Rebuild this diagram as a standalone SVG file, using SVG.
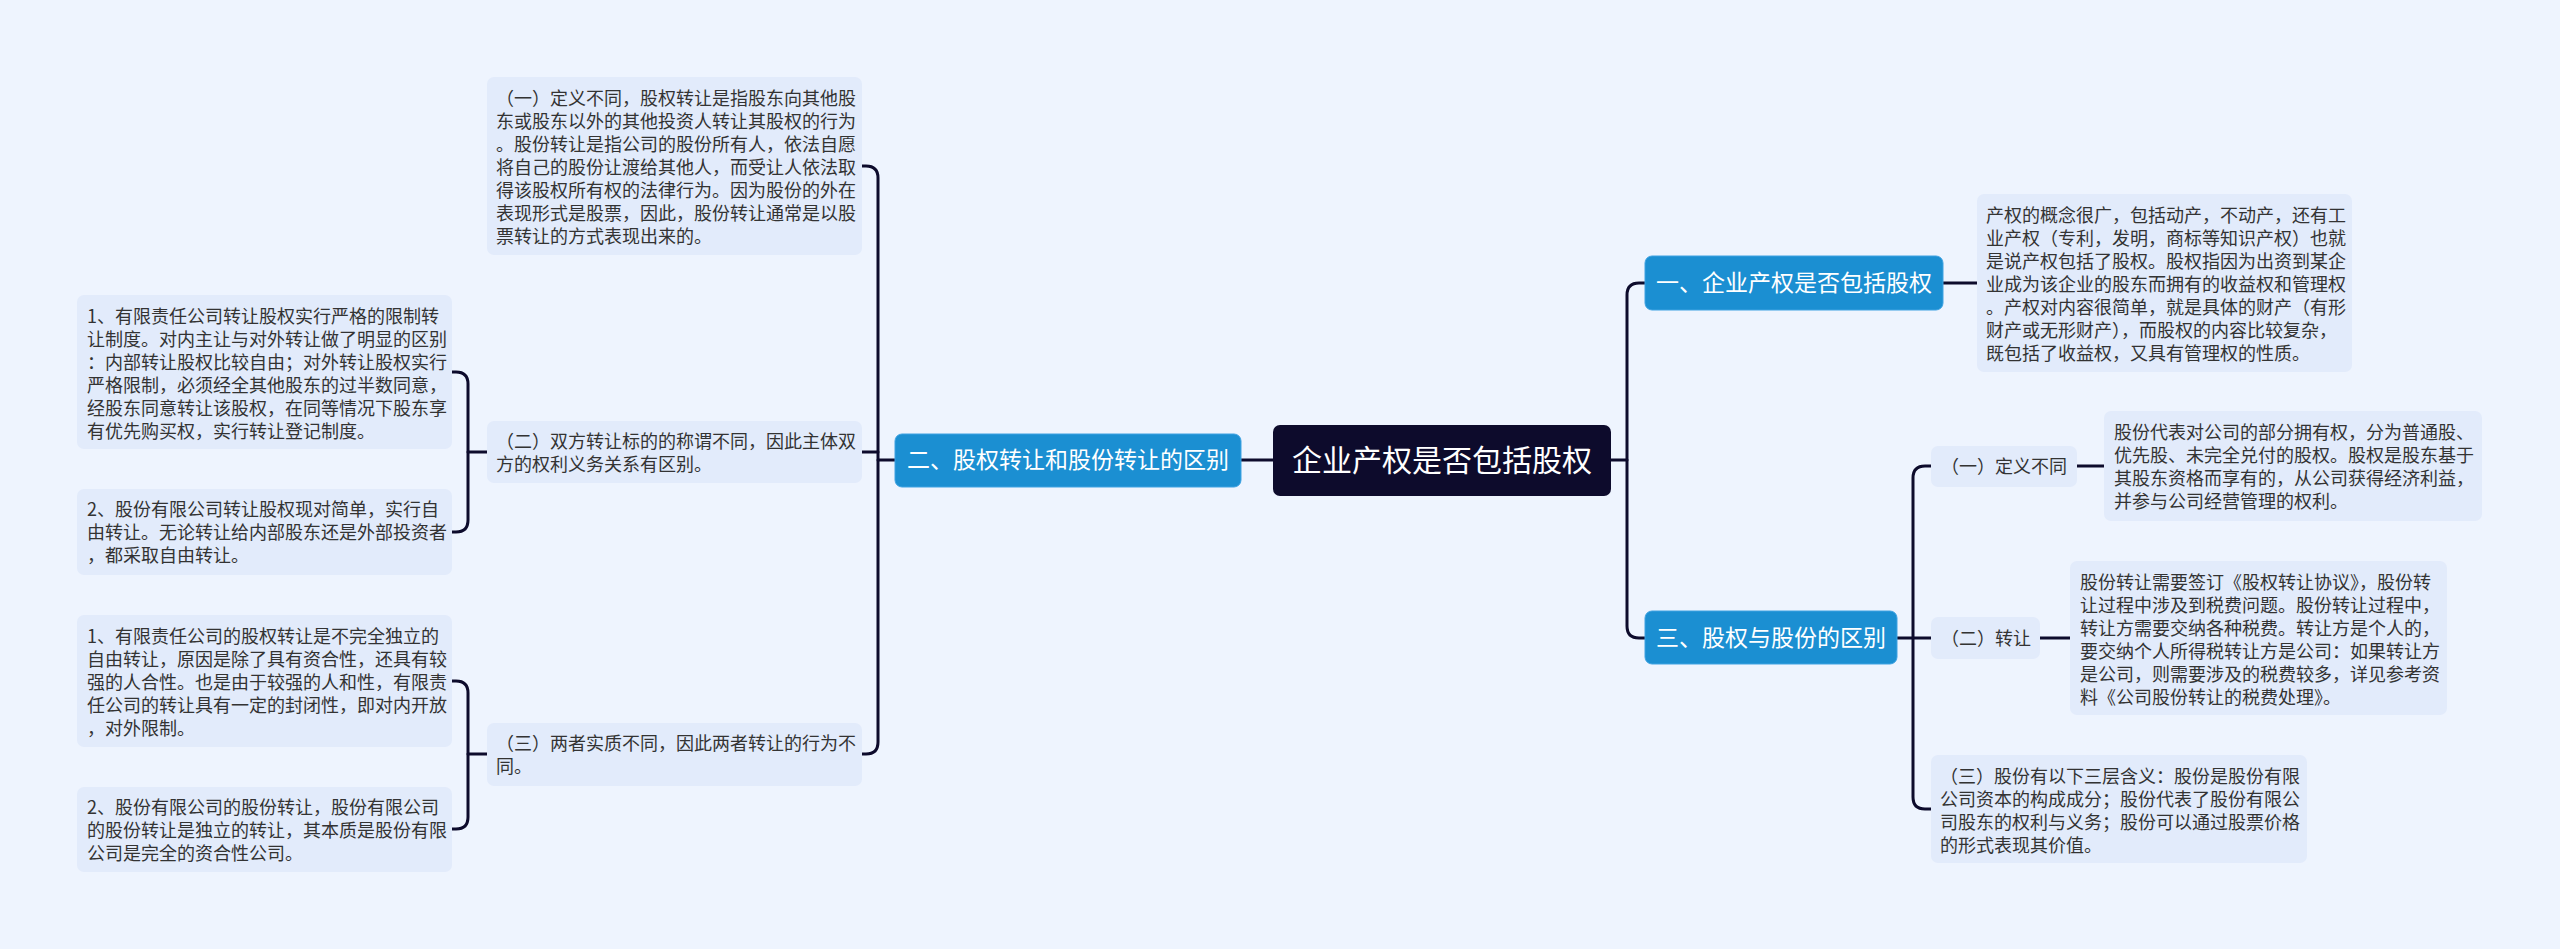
<svg xmlns="http://www.w3.org/2000/svg" width="2560" height="949" viewBox="0 0 2560 949">
<style>
.bg{fill:#eef4fe}
.leaf{fill:#e2ebfb}
.lt{font-family:"Noto Sans CJK SC","Noto Sans",sans-serif;font-size:18px;fill:#333333}
.br{fill:#1b8fd2;stroke:#3ea2e2;stroke-width:1}
.bt{font-family:"Noto Sans CJK SC","Noto Sans",sans-serif;font-size:23px;fill:#ffffff}
.root{fill:#0d0b2c}
.rt{font-family:"Noto Sans CJK SC","Noto Sans",sans-serif;font-size:30px;fill:#ffffff}
.c{fill:none;stroke:#0d0b2c;stroke-width:3;stroke-linecap:round}
</style>
<rect class="bg" x="0" y="0" width="2560" height="949"/>
<g id="connectors">
<path class="c" d="M862 166 H866 Q878 166 878 178 V742 Q878 754 866 754 H862"/>
<path class="c" d="M862 452 H878"/>
<path class="c" d="M878 460 H895"/>
<path class="c" d="M1241 460 H1273"/>
<path class="c" d="M452 372 H456 Q468 372 468 384 V520 Q468 532 456 532 H452"/>
<path class="c" d="M468 452 H487"/>
<path class="c" d="M452 681 H456 Q468 681 468 693 V817 Q468 829 456 829 H452"/>
<path class="c" d="M468 754 H487"/>
<path class="c" d="M1611 460 H1627"/>
<path class="c" d="M1645 283 H1639 Q1627 283 1627 295 V626 Q1627 638 1639 638 H1645"/>
<path class="c" d="M1943 283 H1977"/>
<path class="c" d="M1897 638 H1931"/>
<path class="c" d="M1931 466 H1925 Q1913 466 1913 478 V797 Q1913 809 1925 809 H1931"/>
<path class="c" d="M2077 466 H2104"/>
<path class="c" d="M2040 638 H2070"/>
</g>
<g id="root">
<rect class="root" x="1273" y="425" width="338" height="71" rx="7"/>
<text class="rt" x="1442" y="471" text-anchor="middle">企业产权是否包括股权</text>
</g>
<g id="b2">
<rect class="br" x="895" y="434" width="346" height="53" rx="7"/>
<text class="bt" x="1068" y="468" text-anchor="middle">二、股权转让和股份转让的区别</text>
</g>
<g id="b1">
<rect class="br" x="1645" y="256" width="298" height="54" rx="7"/>
<text class="bt" x="1794" y="291" text-anchor="middle">一、企业产权是否包括股权</text>
</g>
<g id="b3">
<rect class="br" x="1645" y="611" width="252" height="53" rx="7"/>
<text class="bt" x="1771" y="646" text-anchor="middle">三、股权与股份的区别</text>
</g>
<g id="l2a">
<rect class="leaf" x="487" y="77" width="375" height="178" rx="7"/>
<text class="lt" x="496" y="105"><tspan x="496">（一）定义不同，股权转让是指股东向其他股</tspan><tspan x="496" dy="23">东或股东以外的其他投资人转让其股权的行为</tspan><tspan x="496" dy="23">。股份转让是指公司的股份所有人，依法自愿</tspan><tspan x="496" dy="23">将自己的股份让渡给其他人，而受让人依法取</tspan><tspan x="496" dy="23">得该股权所有权的法律行为。因为股份的外在</tspan><tspan x="496" dy="23">表现形式是股票，因此，股份转让通常是以股</tspan><tspan x="496" dy="23">票转让的方式表现出来的。</tspan></text>
</g>
<g id="l2b">
<rect class="leaf" x="487" y="421" width="375" height="62" rx="7"/>
<text class="lt" x="496" y="448"><tspan x="496">（二）双方转让标的的称谓不同，因此主体双</tspan><tspan x="496" dy="23">方的权利义务关系有区别。</tspan></text>
</g>
<g id="l2c">
<rect class="leaf" x="487" y="723" width="375" height="63" rx="7"/>
<text class="lt" x="496" y="750"><tspan x="496">（三）两者实质不同，因此两者转让的行为不</tspan><tspan x="496" dy="23">同。</tspan></text>
</g>
<g id="l2b1">
<rect class="leaf" x="77" y="295" width="375" height="154" rx="7"/>
<text class="lt" x="87" y="323"><tspan x="87">1、有限责任公司转让股权实行严格的限制转</tspan><tspan x="87" dy="23">让制度。对内主让与对外转让做了明显的区别</tspan><tspan x="87" dy="23">：内部转让股权比较自由；对外转让股权实行</tspan><tspan x="87" dy="23">严格限制，必须经全其他股东的过半数同意，</tspan><tspan x="87" dy="23">经股东同意转让该股权，在同等情况下股东享</tspan><tspan x="87" dy="23">有优先购买权，实行转让登记制度。</tspan></text>
</g>
<g id="l2b2">
<rect class="leaf" x="77" y="489" width="375" height="86" rx="7"/>
<text class="lt" x="87" y="516"><tspan x="87">2、股份有限公司转让股权现对简单，实行自</tspan><tspan x="87" dy="23">由转让。无论转让给内部股东还是外部投资者</tspan><tspan x="87" dy="23">，都采取自由转让。</tspan></text>
</g>
<g id="l2c1">
<rect class="leaf" x="77" y="615" width="375" height="132" rx="7"/>
<text class="lt" x="87" y="643"><tspan x="87">1、有限责任公司的股权转让是不完全独立的</tspan><tspan x="87" dy="23">自由转让，原因是除了具有资合性，还具有较</tspan><tspan x="87" dy="23">强的人合性。也是由于较强的人和性，有限责</tspan><tspan x="87" dy="23">任公司的转让具有一定的封闭性，即对内开放</tspan><tspan x="87" dy="23">，对外限制。</tspan></text>
</g>
<g id="l2c2">
<rect class="leaf" x="77" y="787" width="375" height="85" rx="7"/>
<text class="lt" x="87" y="814"><tspan x="87">2、股份有限公司的股份转让，股份有限公司</tspan><tspan x="87" dy="23">的股份转让是独立的转让，其本质是股份有限</tspan><tspan x="87" dy="23">公司是完全的资合性公司。</tspan></text>
</g>
<g id="l1a">
<rect class="leaf" x="1977" y="194" width="375" height="178" rx="7"/>
<text class="lt" x="1986" y="222"><tspan x="1986">产权的概念很广，包括动产，不动产，还有工</tspan><tspan x="1986" dy="23">业产权（专利，发明，商标等知识产权）也就</tspan><tspan x="1986" dy="23">是说产权包括了股权。股权指因为出资到某企</tspan><tspan x="1986" dy="23">业成为该企业的股东而拥有的收益权和管理权</tspan><tspan x="1986" dy="23">。产权对内容很简单，就是具体的财产（有形</tspan><tspan x="1986" dy="23">财产或无形财产），而股权的内容比较复杂，</tspan><tspan x="1986" dy="23">既包括了收益权，又具有管理权的性质。</tspan></text>
</g>
<g id="l3a">
<rect class="leaf" x="1931" y="446" width="146" height="41" rx="7"/>
<text class="lt" x="1941" y="473">（一）定义不同</text>
</g>
<g id="l3a1">
<rect class="leaf" x="2104" y="411" width="378" height="110" rx="7"/>
<text class="lt" x="2114" y="439"><tspan x="2114">股份代表对公司的部分拥有权，分为普通股、</tspan><tspan x="2114" dy="23">优先股、未完全兑付的股权。股权是股东基于</tspan><tspan x="2114" dy="23">其股东资格而享有的，从公司获得经济利益，</tspan><tspan x="2114" dy="23">并参与公司经营管理的权利。</tspan></text>
</g>
<g id="l3b">
<rect class="leaf" x="1931" y="617" width="109" height="42" rx="7"/>
<text class="lt" x="1941" y="645">（二）转让</text>
</g>
<g id="l3b1">
<rect class="leaf" x="2070" y="561" width="377" height="154" rx="7"/>
<text class="lt" x="2080" y="589"><tspan x="2080">股份转让需要签订《股权转让协议》，股份转</tspan><tspan x="2080" dy="23">让过程中涉及到税费问题。股份转让过程中，</tspan><tspan x="2080" dy="23">转让方需要交纳各种税费。转让方是个人的，</tspan><tspan x="2080" dy="23">要交纳个人所得税转让方是公司：如果转让方</tspan><tspan x="2080" dy="23">是公司，则需要涉及的税费较多，详见参考资</tspan><tspan x="2080" dy="23">料《公司股份转让的税费处理》。</tspan></text>
</g>
<g id="l3c">
<rect class="leaf" x="1931" y="755" width="376" height="108" rx="7"/>
<text class="lt" x="1940" y="783"><tspan x="1940">（三）股份有以下三层含义：股份是股份有限</tspan><tspan x="1940" dy="23">公司资本的构成成分；股份代表了股份有限公</tspan><tspan x="1940" dy="23">司股东的权利与义务；股份可以通过股票价格</tspan><tspan x="1940" dy="23">的形式表现其价值。</tspan></text>
</g>
</svg>
